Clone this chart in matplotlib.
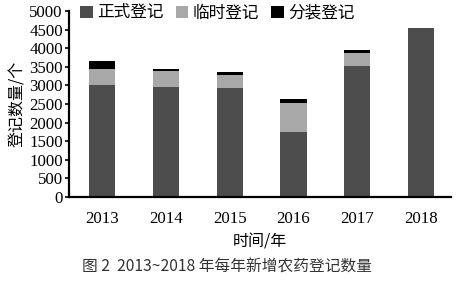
import matplotlib
matplotlib.use("Agg")
import matplotlib.pyplot as plt
import numpy as np

years = ["2013", "2014", "2015", "2016", "2017", "2018"]
formal = [3000, 2960, 2935, 1740, 3510, 4540]
temporary = [430, 420, 335, 780, 350, 0]
repack = [230, 60, 80, 115, 90, 0]
series_names = ["正式登记", "临时登记", "分装登记"]
yticks = [0, 500, 1000, 1500, 2000, 2500, 3000, 3500, 4000, 4500, 5000]

cjk = ["Noto Sans CJK SC", "DejaVu Sans"]
serif = ["Liberation Serif", "DejaVu Serif"]

fig = plt.figure(figsize=(4.61, 2.81), dpi=100)
ax = fig.add_axes([69/461, 1-197/281, (451-69)/461, (197-11)/281])

x = np.arange(len(years))
w = 0.41
formal_a = np.array(formal)
temp_a = np.array(temporary)
rep_a = np.array(repack)
b1 = ax.bar(x, formal_a, w, color="#4d4d4d", label=series_names[0], zorder=2)
b2 = ax.bar(x, temp_a, w, bottom=formal_a, color="#a8a8a8", label=series_names[1], zorder=2)
b3 = ax.bar(x, rep_a, w, bottom=formal_a+temp_a, color="#000000", label=series_names[2], zorder=2)

ax.set_xlim(-0.52, 5.47)
ax.set_ylim(0, 5000)
ax.set_yticks(yticks)
ax.set_yticklabels([str(v) for v in yticks], family=serif, fontsize=12.2)
ax.set_xticks(x)
ax.set_xticklabels(years, family=serif, fontsize=12.2)
ax.tick_params(axis="x", length=0, pad=10)
ax.tick_params(axis="y", length=3, width=1.2, pad=1.5, direction="out")
for s in ["top", "right"]:
    ax.spines[s].set_visible(False)
for s in ["left", "bottom"]:
    ax.spines[s].set_linewidth(1.6)
    ax.spines[s].set_color("black")

ax.set_ylabel("登记数量/个", family=cjk, fontsize=11.5, labelpad=2)
ax.set_xlabel("时间/年", family=cjk, fontsize=11.5, labelpad=5)

leg = fig.legend(handles=[b1, b2, b3], labels=series_names, loc="center left",
                 bbox_to_anchor=(80/461, 1-13/281), ncol=3, frameon=False,
                 prop={"family": cjk, "size": 12}, handlelength=0.75, handleheight=0.75,
                 handletextpad=0.25, columnspacing=0.75, borderaxespad=0, borderpad=0)

fig.text(227/461, 1-267/281, "图 2  2013~2018 年每年新增农药登记数量", family=cjk,
         fontsize=11.3, color="#333333", ha="center", va="center")

fig.savefig("out.png", dpi=100)
